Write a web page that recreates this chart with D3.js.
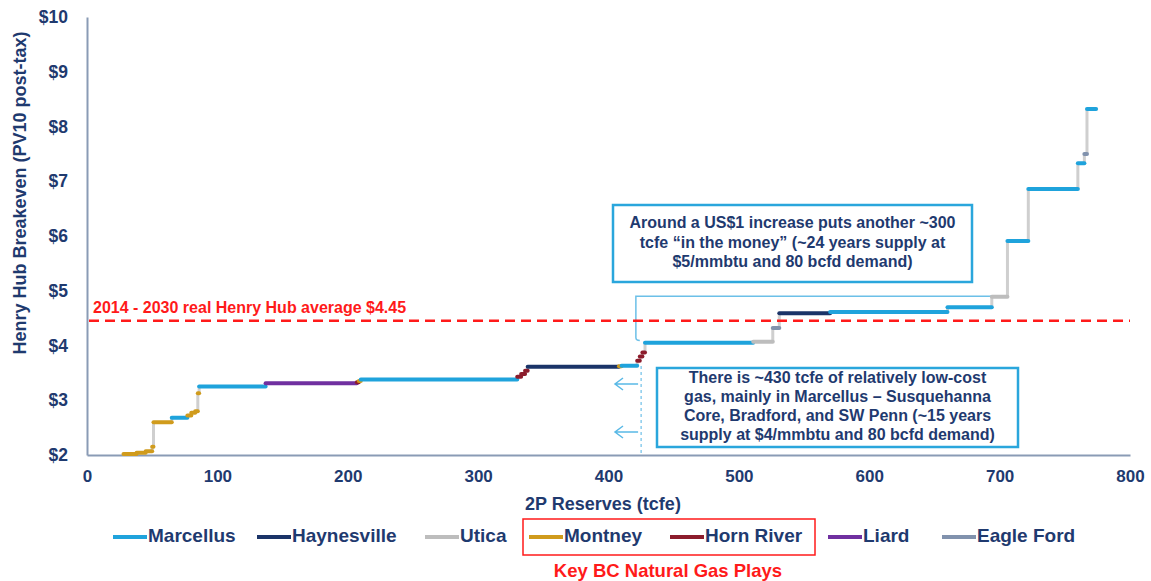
<!DOCTYPE html>
<html lang="en">
  <head>
    <meta charset="UTF-8" />
    <script src="https://d3js.org/d3.v7.min.js"></script>
    <title>Henry Hub breakeven supply curve</title>
    <style>
      body { margin: 0; background: #fff; }
      text { font-family: "Liberation Sans", Arial, sans-serif; }
    </style>
  </head>
  <body>
    <div id="chart"></div>
    <script>
      // play names and colours
      var plays = ["Marcellus", "Haynesville", "Utica", "Montney", "Horn River", "Liard", "Eagle Ford"];
      var playColors = ["#1fa3dc", "#1b3468", "#bdbdbd", "#d09b1c", "#8c1c2c", "#7030a0", "#8192ad"];

      // supply curve steps: cumulative reserves start/end (tcfe), breakeven ($/mmbtu), play
      var stepStart = [28, 38, 45, 50, 51, 65, 77, 80, 83, 85, 86, 137, 207, 208.5, 210, 330, 333, 336, 338, 408, 410, 422, 424, 426, 428, 511, 526, 531, 570, 660, 694, 706, 722, 760, 765, 767];
      var stepEnd   = [38, 45, 50, 51, 65, 77, 80, 83, 85, 86, 137, 207, 208.5, 210, 330, 333, 336, 338, 408, 410, 422, 424, 426, 428, 511, 526, 531, 570, 660, 694, 706, 722, 760, 765, 767, 774];
      var stepPrice = [2.02, 2.04, 2.07, 2.15, 2.6, 2.68, 2.72, 2.77, 2.8, 3.13, 3.25, 3.31, 3.33, 3.35, 3.38, 3.43, 3.48, 3.54, 3.61, 3.62, 3.63, 3.72, 3.8, 3.87, 4.05, 4.07, 4.32, 4.59, 4.61, 4.7, 4.89, 5.91, 6.86, 7.33, 7.5, 8.32];
      var stepPlay  = ["Montney", "Montney", "Montney", "Montney", "Montney", "Marcellus", "Montney", "Montney", "Montney", "Montney", "Marcellus", "Liard", "Horn River", "Montney", "Marcellus", "Horn River", "Horn River", "Horn River", "Haynesville", "Montney", "Marcellus", "Horn River", "Horn River", "Horn River", "Marcellus", "Utica", "Eagle Ford", "Haynesville", "Marcellus", "Marcellus", "Utica", "Marcellus", "Marcellus", "Marcellus", "Eagle Ford", "Marcellus"];

      // axes
      var xTicks = [0, 100, 200, 300, 400, 500, 600, 700, 800];
      var yTicks = [2, 3, 4, 5, 6, 7, 8, 9, 10];

      // reference price and annotations
      var henryHubAvg = 4.45;
      var avgLabel = "2014 - 2030 real Henry Hub average $4.45";
      var lowCostReserves = 425;
      var note1 = ["Around a US$1 increase puts another ~300", "tcfe \u201cin the money\u201d (~24 years supply at", "$5/mmbtu and 80 bcfd demand)"];
      var note2 = ["There is ~430 tcfe of relatively low-cost", "gas, mainly in Marcellus \u2013 Susquehanna", "Core, Bradford, and SW Penn (~15 years", "supply at $4/mmbtu and 80 bcfd demand)"];

      var width = 1151,
        height = 581,
        navy = "#1f3a6f",
        red = "#ff1a1a",
        callout = "#2aa6dc";

      var svg = d3.select("#chart").append("svg").attr("width", width).attr("height", height);

      var x = d3.scaleLinear().domain([0, 800]).range([87, 1130]);
      var y = d3.scaleLinear().domain([2, 10]).range([455, 17]);
      var color = d3.scaleOrdinal().domain(plays).range(playColors);

      // x axis
      var xAxis = svg.append("g")
        .attr("transform", "translate(0," + y(2) + ")")
        .call(d3.axisBottom(x).tickValues(xTicks).tickSize(0).tickPadding(15));
      xAxis.select(".domain").attr("stroke", "#8a9bb5").attr("stroke-width", 2);
      xAxis.selectAll("text").attr("fill", navy).attr("font-size", 17).attr("font-weight", "bold");

      // y axis
      var yAxis = svg.append("g")
        .attr("transform", "translate(" + x(0) + ",0)")
        .call(d3.axisLeft(y).tickValues(yTicks).tickSize(0).tickPadding(19).tickFormat(function (d) { return "$" + d; }));
      yAxis.select(".domain").attr("stroke", "#8a9bb5").attr("stroke-width", 2);
      yAxis.selectAll("text").attr("fill", navy).attr("font-size", 17.5).attr("font-weight", "bold");

      svg.append("text")
        .attr("transform", "translate(21,193) rotate(-90)")
        .attr("text-anchor", "middle")
        .attr("dominant-baseline", "middle")
        .attr("fill", navy)
        .attr("font-size", 18)
        .attr("font-weight", "bold")
        .text("Henry Hub Breakeven (PV10 post-tax)");

      svg.append("text")
        .attr("x", 603).attr("y", 505)
        .attr("text-anchor", "middle").attr("dominant-baseline", "middle")
        .attr("fill", navy).attr("font-size", 18).attr("font-weight", "bold")
        .text("2P Reserves (tcfe)");

      // bracket around the next ~300 tcfe
      svg.append("path")
        .attr("d", "M" + x(694) + "," + y(4.9) + "H" + x(421) + "V" + (y(4.09) - 3) + "Q" + x(421) + "," + y(4.09) + " " + x(424) + "," + y(4.09))
        .attr("fill", "none").attr("stroke", "#6cc0e8").attr("stroke-width", 1.5);

      // risers between steps
      var risers = d3.range(1, stepStart.length).map(function (i) {
        return { x: stepStart[i], y0: stepPrice[i - 1], y1: stepPrice[i] };
      });
      svg.append("g").selectAll("line").data(risers).join("line")
        .attr("x1", function (d) { return x(d.x); })
        .attr("x2", function (d) { return x(d.x); })
        .attr("y1", function (d) { return y(d.y0); })
        .attr("y2", function (d) { return y(d.y1); })
        .attr("stroke", "#cfcfcf").attr("stroke-width", 3);

      // horizontal steps
      var steps = stepStart.map(function (s, i) {
        return { x0: s, x1: stepEnd[i], p: stepPrice[i], play: stepPlay[i] };
      });
      svg.append("g").selectAll("line").data(steps).join("line")
        .attr("x1", function (d) { return x(d.x0); })
        .attr("x2", function (d) { return x(d.x1); })
        .attr("y1", function (d) { return y(d.p); })
        .attr("y2", function (d) { return y(d.p); })
        .attr("stroke", function (d) { return color(d.play); })
        .attr("stroke-width", 4)
        .attr("stroke-linecap", "round");

      // Henry Hub average
      svg.append("line")
        .attr("x1", x(0) + 2).attr("x2", x(800))
        .attr("y1", y(henryHubAvg)).attr("y2", y(henryHubAvg))
        .attr("stroke", red).attr("stroke-width", 2.5).attr("stroke-dasharray", "10,6");
      svg.append("text")
        .attr("x", 93).attr("y", y(henryHubAvg) - 12)
        .attr("dominant-baseline", "middle")
        .attr("fill", red).attr("font-size", 16).attr("font-weight", "bold")
        .text(avgLabel);

      // low-cost marker and arrows
      svg.append("line")
        .attr("x1", x(lowCostReserves)).attr("x2", x(lowCostReserves))
        .attr("y1", 366).attr("y2", y(2) - 1)
        .attr("stroke", "#4fb3e3").attr("stroke-width", 1).attr("stroke-dasharray", "3,3");
      [384, 432].forEach(function (ay) {
        svg.append("path")
          .attr("d", "M" + (x(lowCostReserves) - 3) + "," + ay + "H615M623," + (ay - 6) + "L615," + ay + "L623," + (ay + 6))
          .attr("fill", "none").attr("stroke", "#5ab9e6").attr("stroke-width", 1.5);
      });

      // callout boxes
      function calloutBox(x0, y0, w, h, lines, lh, fs) {
        svg.append("rect")
          .attr("x", x0).attr("y", y0).attr("width", w).attr("height", h)
          .attr("fill", "#fff").attr("stroke", callout).attr("stroke-width", 2.5);
        var cy = y0 + h / 2 - ((lines.length - 1) * lh) / 2;
        svg.append("g").selectAll("text").data(lines).join("text")
          .attr("x", x0 + w / 2)
          .attr("y", function (d, i) { return cy + i * lh; })
          .attr("text-anchor", "middle").attr("dominant-baseline", "middle")
          .attr("fill", navy).attr("font-size", fs).attr("font-weight", "bold")
          .text(function (d) { return d; });
      }
      calloutBox(613, 205, 359, 77, note1, 19.5, 16);
      calloutBox(657, 368, 361, 79, note2, 19, 16);

      // legend
      var legendX = [113, 257, 425, 529, 670, 828, 942];
      var legend = svg.append("g").selectAll("g").data(plays).join("g")
        .attr("transform", function (d, i) { return "translate(" + legendX[i] + ",537)"; });
      legend.append("line")
        .attr("x1", 0).attr("x2", 34)
        .attr("stroke", function (d) { return color(d); })
        .attr("stroke-width", 4);
      legend.append("text")
        .attr("x", 35).attr("dominant-baseline", "middle")
        .attr("fill", navy).attr("font-size", 19).attr("font-weight", "bold")
        .text(function (d) { return d; });

      svg.append("rect")
        .attr("x", 523).attr("y", 519).attr("width", 292).attr("height", 36)
        .attr("fill", "none").attr("stroke", red).attr("stroke-width", 1.5);
      svg.append("text")
        .attr("x", 668).attr("y", 572)
        .attr("text-anchor", "middle").attr("dominant-baseline", "middle")
        .attr("fill", red).attr("font-size", 18.5).attr("font-weight", "bold")
        .text("Key BC Natural Gas Plays");
    </script>
  </body>
</html>
